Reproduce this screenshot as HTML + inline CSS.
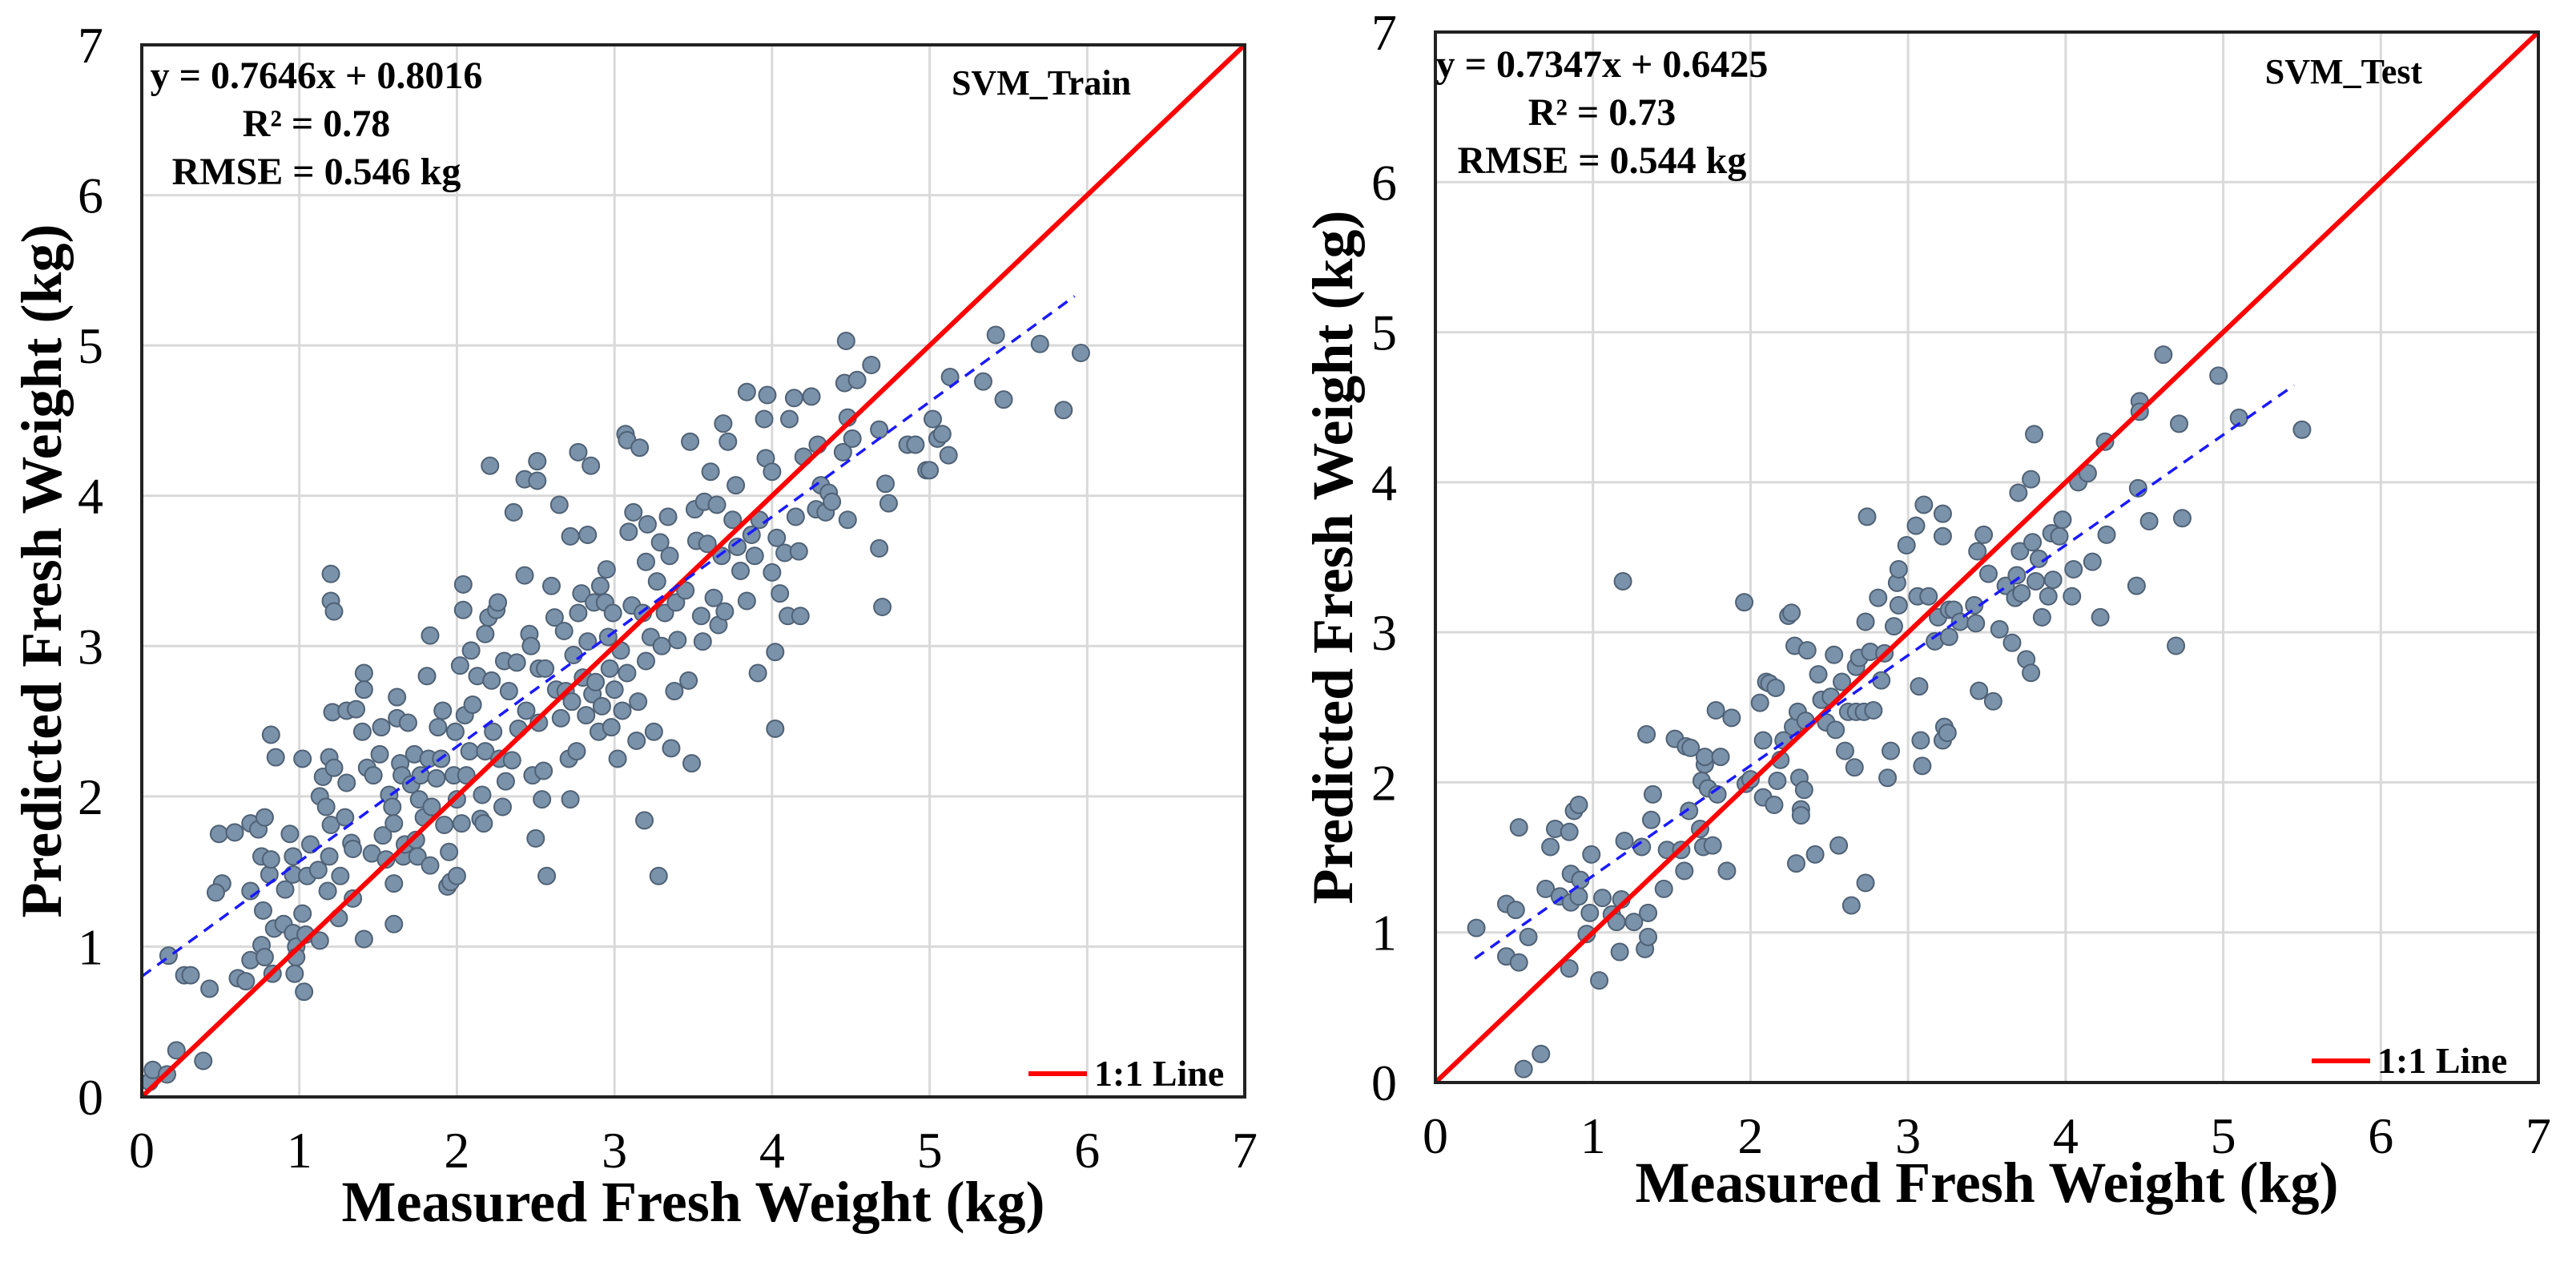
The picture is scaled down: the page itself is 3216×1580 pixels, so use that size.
<!DOCTYPE html>
<html><head><meta charset="utf-8"><style>
html,body{margin:0;padding:0;background:#fff;}
svg{display:block;font-family:"Liberation Serif",serif;}
text{font-family:"Liberation Serif",serif;}
</style></head><body>
<svg id="chart" width="3216" height="1580" viewBox="0 0 3216 1580" xmlns="http://www.w3.org/2000/svg"></svg>
<script>
const axisTicks=[0,1,2,3,4,5,6,7];
const tickLabels=["0","1","2","3","4","5","6","7"];
const trainX=[0.05,0.07,0.16,0.22,0.39,0.17,0.27,0.31,0.43,0.49,0.51,0.47,0.59,0.61,0.66,0.69,0.69,0.69,0.74,0.77,0.76,0.76,0.78,0.78,0.81,0.82,0.82,0.84,0.83,0.85,0.91,0.9,0.94,0.96,0.98,0.98,0.97,0.96,0.96,1.02,1.03,1.04,1.02,1.05,1.07,1.13,1.12,1.13,1.15,1.17,1.18,1.19,1.19,1.2,1.2,1.2,1.22,1.22,1.21,1.25,1.26,1.29,1.3,1.3,1.33,1.34,1.34,1.36,1.4,1.41,1.41,1.41,1.43,1.46,1.47,1.51,1.52,1.53,1.55,1.57,1.59,1.6,1.6,1.6,1.62,1.62,1.64,1.65,1.66,1.67,1.69,1.71,1.73,1.74,1.75,1.76,1.77,1.79,1.81,1.82,1.83,1.83,1.84,1.87,1.88,1.9,1.91,1.92,1.94,1.95,1.96,1.98,1.99,2.0,2.0,2.02,2.03,2.04,2.04,2.05,2.06,2.08,2.09,2.1,2.13,2.15,2.16,2.17,2.18,2.18,2.2,2.21,2.22,2.23,2.25,2.26,2.27,2.29,2.3,2.31,2.33,2.35,2.36,2.38,2.39,2.43,2.43,2.44,2.46,2.47,2.48,2.5,2.51,2.51,2.52,2.52,2.54,2.55,2.56,2.57,2.6,2.62,2.63,2.65,2.66,2.68,2.69,2.71,2.72,2.72,2.73,2.74,2.76,2.77,2.77,2.79,2.8,2.82,2.83,2.83,2.85,2.86,2.87,2.88,2.9,2.91,2.92,2.94,2.95,2.96,2.97,2.98,2.99,3.0,3.02,3.04,3.05,3.07,3.08,3.08,3.09,3.11,3.12,3.14,3.15,3.16,3.18,3.19,3.2,3.2,3.21,3.23,3.25,3.27,3.28,3.29,3.3,3.32,3.34,3.35,3.36,3.38,3.39,3.4,3.45,3.47,3.48,3.49,3.51,3.52,3.55,3.56,3.57,3.59,3.61,3.63,3.65,3.66,3.68,3.69,3.7,3.72,3.75,3.77,3.78,3.8,3.84,3.84,3.87,3.89,3.91,3.92,3.95,3.96,3.97,4.0,4.0,4.02,4.02,4.03,4.05,4.08,4.1,4.11,4.14,4.15,4.17,4.18,4.2,4.25,4.28,4.29,4.31,4.34,4.36,4.38,4.45,4.46,4.47,4.48,4.48,4.51,4.54,4.63,4.68,4.68,4.7,4.72,4.74,4.86,4.91,4.98,5.0,5.02,5.05,5.08,5.12,5.13,5.34,5.42,5.47,5.7,5.85,5.96];
const trainY=[0.1,0.18,0.15,0.31,0.24,0.94,0.81,0.81,0.72,1.75,1.42,1.36,1.76,0.79,0.77,1.82,0.91,1.37,1.78,1.24,1.6,1.01,0.93,1.86,1.48,1.58,2.41,1.12,0.82,2.26,1.38,1.15,1.75,1.09,1.0,0.93,0.82,1.6,1.48,2.25,0.7,1.08,1.22,1.47,1.68,1.04,1.51,2.0,2.13,1.93,1.37,1.6,2.26,1.81,3.48,3.3,3.23,2.19,2.56,1.19,1.47,1.86,2.09,2.57,1.69,1.32,1.65,2.58,2.43,2.82,2.71,1.05,2.19,1.62,2.14,2.28,2.46,1.74,1.58,2.01,1.93,1.15,1.42,1.82,2.66,2.52,2.22,2.14,1.6,1.68,2.49,2.08,2.28,1.71,1.6,1.98,2.14,1.86,2.8,2.25,1.54,3.07,1.93,2.12,2.46,2.25,2.57,1.81,1.4,1.63,1.43,2.14,2.43,1.98,1.47,2.87,1.82,3.41,3.24,2.54,2.14,2.3,2.97,2.61,2.8,1.85,2.01,1.82,3.08,2.3,3.19,4.2,2.77,2.43,3.24,3.29,2.25,1.93,2.9,2.1,2.7,2.24,3.89,2.89,2.45,3.47,4.11,2.57,3.08,3.0,2.14,1.72,4.1,4.23,2.85,2.49,1.98,2.17,2.85,1.47,3.4,3.19,2.71,3.94,2.52,3.1,2.7,2.25,1.98,3.73,2.63,2.94,2.3,4.29,3.22,3.35,2.79,2.54,3.03,3.74,4.2,2.68,3.29,2.76,2.43,3.4,2.6,3.29,3.51,3.06,2.85,2.46,3.22,2.71,2.25,2.97,2.57,4.41,4.37,2.82,3.76,3.27,3.89,2.37,2.63,4.32,3.22,1.84,2.9,3.56,3.81,3.06,2.43,3.43,1.47,3.69,3.0,3.22,3.86,3.6,2.32,2.7,3.29,3.04,3.37,2.77,4.36,2.22,3.91,3.7,3.2,3.03,3.96,3.68,4.16,3.32,3.94,3.14,3.6,4.48,3.23,4.36,3.84,4.07,3.66,3.5,3.3,4.69,3.74,3.6,2.82,3.84,4.51,4.25,4.67,4.16,3.49,2.45,2.96,3.72,3.35,3.62,3.2,4.51,4.65,3.86,3.63,3.2,4.26,4.66,3.91,4.34,4.07,3.89,4.02,3.96,4.29,4.75,5.03,4.52,3.84,4.38,4.77,4.87,4.44,3.65,3.26,4.08,3.95,4.34,4.34,4.17,4.17,4.51,4.38,4.41,4.27,4.79,4.76,5.07,4.64,5.01,4.57,4.95];
const testX=[0.26,0.45,0.45,0.51,0.53,0.53,0.56,0.59,0.67,0.7,0.73,0.76,0.79,0.85,0.85,0.86,0.86,0.88,0.91,0.91,0.92,0.96,0.98,0.99,1.04,1.06,1.12,1.15,1.17,1.18,1.19,1.2,1.26,1.31,1.33,1.34,1.35,1.35,1.37,1.38,1.45,1.47,1.52,1.56,1.58,1.59,1.61,1.62,1.68,1.69,1.7,1.71,1.71,1.73,1.76,1.78,1.79,1.81,1.85,1.88,1.96,1.97,2.0,2.06,2.08,2.08,2.1,2.12,2.15,2.16,2.17,2.19,2.21,2.24,2.26,2.27,2.28,2.29,2.3,2.31,2.32,2.32,2.34,2.35,2.36,2.41,2.43,2.45,2.48,2.51,2.53,2.54,2.56,2.58,2.6,2.62,2.64,2.66,2.67,2.67,2.69,2.72,2.73,2.73,2.74,2.76,2.78,2.81,2.83,2.85,2.87,2.89,2.91,2.93,2.94,2.94,2.99,3.05,3.07,3.08,3.09,3.06,3.1,3.13,3.17,3.19,3.22,3.22,3.22,3.23,3.25,3.26,3.26,3.29,3.33,3.42,3.43,3.44,3.45,3.48,3.51,3.54,3.58,3.62,3.66,3.68,3.69,3.7,3.71,3.72,3.75,3.78,3.78,3.79,3.8,3.81,3.83,3.85,3.89,3.91,3.92,3.96,3.98,4.04,4.05,4.08,4.14,4.17,4.22,4.25,4.26,4.45,4.46,4.47,4.47,4.53,4.62,4.7,4.72,4.74,4.97,5.1,5.5];
const testY=[1.03,1.19,0.84,1.15,1.7,0.8,0.09,0.97,0.19,1.29,1.57,1.69,1.24,0.76,1.67,1.39,1.2,1.81,1.85,1.24,1.35,0.99,1.13,1.52,0.68,1.23,1.12,1.07,0.87,1.22,3.34,1.61,1.07,1.57,0.89,2.32,0.97,1.13,1.75,1.92,1.29,1.55,2.29,1.55,1.41,2.24,1.81,2.23,1.69,2.01,1.57,2.12,2.17,1.96,1.58,2.48,1.92,2.17,1.41,2.43,3.2,1.99,2.02,2.53,2.28,1.9,2.67,2.66,1.85,2.63,2.01,2.15,2.28,3.11,3.13,2.37,2.91,1.46,2.47,2.03,1.82,1.78,1.95,2.41,2.88,1.52,2.72,2.55,2.4,2.57,2.85,2.35,1.58,2.67,2.21,2.47,1.18,2.1,2.47,2.77,2.83,2.47,1.33,3.07,3.77,2.87,2.48,3.23,2.68,2.86,2.03,2.21,3.04,3.33,3.18,3.42,3.58,3.71,2.64,2.28,2.11,3.24,3.85,3.24,2.94,3.1,3.79,3.64,2.28,2.37,2.33,3.15,2.97,3.15,3.07,3.18,3.06,3.54,2.61,3.65,3.39,2.54,3.02,3.31,2.93,3.23,3.38,3.93,3.54,3.26,2.82,4.02,2.73,3.6,4.32,3.34,3.49,3.1,3.24,3.66,3.35,3.64,3.75,3.24,3.42,4.0,4.06,3.47,3.1,4.27,3.65,3.31,3.96,4.54,4.47,3.74,4.85,2.91,4.39,3.76,4.71,4.43,4.35];
const trainFit=[0.7646,0.8016], trainFitRange=[0,5.92];
const testFit=[0.7347,0.6425], testFitRange=[0.25,5.45];

const NS="http://www.w3.org/2000/svg";
const svg=document.getElementById('chart');
function mk(tag,attrs,parent){const e=document.createElementNS(NS,tag);for(const k in attrs)e.setAttribute(k,attrs[k]);(parent||svg).appendChild(e);return e;}

function drawPanel(cfg){
  const g=mk('g',{});
  
  
  const sx=v=>cfg.x0+(v/7)*(cfg.x1-cfg.x0);
  const sy=v=>cfg.y1-(v/7)*(cfg.y1-cfg.y0);
  axisTicks.forEach((t,i)=>{
    if(t>0&&t<7){
      const gv=mk('line',{x1:sx(t),x2:sx(t),y1:cfg.y0,y2:cfg.y1,stroke:'#d9d9d9','stroke-width':3},g);
      
      
      const gh=mk('line',{x1:cfg.x0,x2:cfg.x1,y1:sy(t),y2:sy(t),stroke:'#d9d9d9','stroke-width':3},g);
      
      
    }
    const xl=mk('text',{x:sx(t),y:cfg.y1+88,'text-anchor':'middle','font-size':64,fill:'#000'},g);
    xl.textContent=tickLabels[i];
    
    
    const yl=mk('text',{x:cfg.x0-48,y:sy(t)+22,'text-anchor':'end','font-size':64,fill:'#000'},g);
    yl.textContent=tickLabels[i];
    
    
  });
  const xs=cfg.xs, ys=cfg.ys;
  for(let i=0;i<xs.length;i++){
    const c=mk('circle',{cx:sx(xs[i]),cy:sy(ys[i]),r:10.5,fill:'#7a92aa',stroke:'#4f6175','stroke-width':2},g);
    
    
  }
  const one=mk('line',{x1:sx(0),y1:sy(0),x2:sx(7),y2:sy(7),stroke:'#ff0000','stroke-width':6},g);
  
  
  const f=cfg.fit, r=cfg.range;
  const fl=mk('line',{x1:sx(r[0]),y1:sy(f[0]*r[0]+f[1]),x2:sx(r[1]),y2:sy(f[0]*r[1]+f[1]),stroke:'#1a1aff','stroke-width':3.5,'stroke-dasharray':'14 10'},g);
  
  
  const fr=mk('rect',{x:cfg.x0,y:cfg.y0,width:cfg.x1-cfg.x0,height:cfg.y1-cfg.y0,fill:'none',stroke:'#222','stroke-width':4},g);
  
  
  cfg.ann.forEach((txt,i)=>{
    const a=mk('text',{x:cfg.annX,y:cfg.annY+i*60,'text-anchor':'middle','font-size':48,'font-weight':'bold',fill:'#000'},g);
    a.textContent=txt;
    
    
  });
  const lab=mk('text',{x:cfg.labX,y:cfg.labY,'text-anchor':'middle','font-size':44,'font-weight':'bold',fill:'#000'},g);
  lab.textContent=cfg.label;
  
  
  const lg=mk('line',{x1:cfg.legX,x2:cfg.legX+73,y1:cfg.legY,y2:cfg.legY,stroke:'#ff0000','stroke-width':6},g);
  
  
  const lt=mk('text',{x:cfg.legX+82,y:cfg.legY+15,'font-size':46,'font-weight':'bold',fill:'#000'},g);
  lt.textContent='1:1 Line';
  
  
  const xt=mk('text',{x:(cfg.x0+cfg.x1)/2,y:cfg.xtY,'text-anchor':'middle','font-size':72,'font-weight':'bold',fill:'#000'},g);
  xt.textContent='Measured Fresh Weight (kg)';
  
  
  const cy=(cfg.y0+cfg.y1)/2;
  const yt=mk('text',{x:cfg.ytX,y:cy,'text-anchor':'middle','font-size':72,'font-weight':'bold',fill:'#000','xml:space':'preserve',transform:'rotate(-90 '+cfg.ytX+' '+cy+')'},g);
  yt.textContent='Predicted  Fresh Weight (kg)';
  
  
}
drawPanel({name:'train-panel',x0:177,x1:1554,y0:56,y1:1369,xs:trainX,ys:trainY,fit:trainFit,range:trainFitRange,
  ann:['y = 0.7646x + 0.8016','R² = 0.78','RMSE = 0.546 kg'],annX:395,annY:110,label:'SVM_Train',labX:1300,labY:118,
  legX:1284,legY:1340,xtY:1524,ytX:76});
drawPanel({name:'test-panel',x0:1792,x1:3169,y0:40,y1:1351,xs:testX,ys:testY,fit:testFit,range:testFitRange,
  ann:['y = 0.7347x + 0.6425','R² = 0.73','RMSE = 0.544 kg'],annX:2000,annY:96,label:'SVM_Test',labX:2926,labY:104,
  legX:2886,legY:1324,xtY:1500,ytX:1688});
</script>
</body></html>
